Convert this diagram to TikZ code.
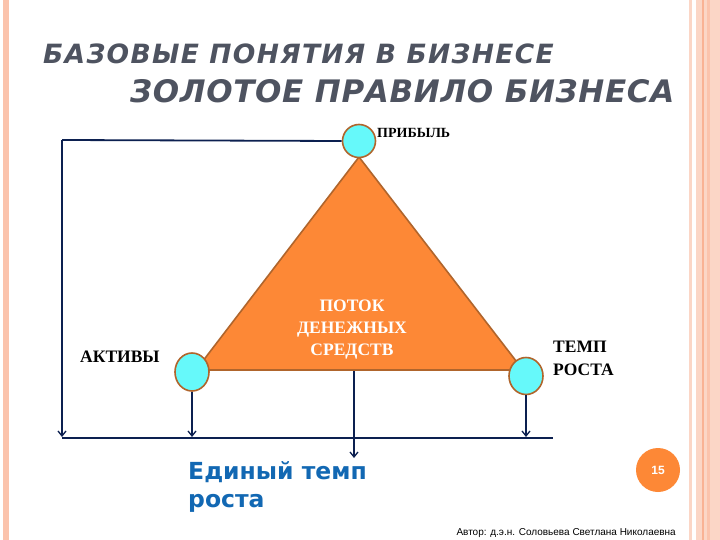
\documentclass[tikz,border=0pt]{standalone}
\usepackage{fontspec}
\setmainfont{Liberation Serif}
\newfontfamily\titlefont{DejaVu Sans}
\newfontfamily\bluefont{DejaVu Sans}
\newfontfamily\authfont{Liberation Sans}
\usetikzlibrary{arrows.meta,shapes.geometric}
\definecolor{navy}{HTML}{0C2050}
\definecolor{orng}{HTML}{FD8836}
\definecolor{brwn}{HTML}{B0652C}
\definecolor{cyanc}{HTML}{66F9FA}
\definecolor{titlegray}{HTML}{4E5360}
\definecolor{blu}{HTML}{1268B3}
\definecolor{peach}{HTML}{FBC3AC}
\definecolor{peachlt}{HTML}{FBD6C6}
\definecolor{peachdk}{HTML}{F9B294}
\begin{document}
\begin{tikzpicture}[x=1pt,y=-1pt,
  circ/.style={ellipse,draw=brwn,line width=1.6pt,fill=cyanc,inner sep=0pt},
  lbl/.style={font=\fontsize{14}{16}\selectfont\bfseries,text=black,inner sep=0pt},
  biglbl/.style={font=\fontsize{17.5}{23}\selectfont\bfseries,text=black,inner sep=0pt},
  conn/.style={draw=navy,line width=1.5pt},
  arr/.style={conn,-{Straight Barb[length=5pt,width=8pt,line width=1.3pt]}}
]
\useasboundingbox (0,0) rectangle (720,540);
\fill[white] (0,0) rectangle (720,540);
% borders
\fill[peach] (3,0) rectangle (9,540);
\fill[peachlt] (689,0) rectangle (692,540);
\fill[peachlt] (696,0) rectangle (720,540);
\fill[peachdk] (702,0) rectangle (703.5,540);
\fill[peach] (706.5,0) rectangle (710,540);
% title
\node[font=\titlefont\bfseries\itshape\fontsize{26.5}{30}\selectfont\addfontfeature{LetterSpace=5},text=titlegray,anchor=base west,inner sep=0pt] (t1) at (43,64) {БАЗОВЫЕ ПОНЯТИЯ В БИЗНЕСЕ};
\node[font=\titlefont\bfseries\itshape\fontsize{31}{34}\selectfont\addfontfeature{LetterSpace=2.2},text=titlegray,anchor=base west,inner sep=0pt] (t2) at (130,103) {ЗОЛОТОЕ ПРАВИЛО БИЗНЕСА};
% triangle
\filldraw[fill=orng,draw=brwn,line width=1.6pt] (359,157) -- (523,370) -- (196,370) -- cycle;
\coordinate (m) at (354,371);
\node[font=\fontsize{17.5}{22}\selectfont\bfseries,text=white,align=center,inner sep=0pt] (flow) at (352,330) {ПОТОК\\ДЕНЕЖНЫХ\\СРЕДСТВ};
% circles
\node[circ,minimum width=33pt,minimum height=33pt] (p) at (359,141) {};
\node[circ,minimum width=34pt,minimum height=38pt] (a) at (192,372) {};
\node[circ,minimum width=34pt,minimum height=37pt] (g) at (526,376) {};
% labels
\node[lbl,anchor=west] (pl) at (377,133) {ПРИБЫЛЬ};
\node[biglbl,anchor=west] (al) at (80,357) {АКТИВЫ};
\node[biglbl,anchor=west,align=left] (gl) at (553,358) {ТЕМП\\РОСТА};
% connectors
\coordinate (tl) at (62,140);
\coordinate (bl) at (62,437);
\coordinate (bm) at (312,438);
\coordinate (br) at (553,438);
\draw[conn,line width=1.8pt] (p.west) -- (tl);
\draw[arr] (tl) -- (bl);
\draw[arr,line width=1.3pt] (a.south) -- (a.south |- bl);
\draw[arr,line width=1.3pt] (g.south) -- (g.south |- bl);
\draw[conn,line width=2.6pt] (62,438) -- (bm);
\draw[conn,line width=1.8pt] (bm) -- (br);
\draw[arr,line width=2.2pt] (m) -- (354,458);
% bottom text
\node[font=\bluefont\bfseries\fontsize{23.5}{28}\selectfont,text=blu,align=left,anchor=north west,inner sep=0pt] (u) at (188,461) {Единый темп\\роста};
\node[circle,fill=orng,minimum size=44pt,inner sep=0pt,font=\authfont\bfseries\fontsize{12}{13}\selectfont,text=white] (n15) at (658,470) {15};
\node[font=\authfont\fontsize{10}{11}\selectfont,anchor=base east,inner sep=0pt] (auth) at (676,535) {Автор: д.э.н. Соловьева Светлана Николаевна};
\end{tikzpicture}
\end{document}
